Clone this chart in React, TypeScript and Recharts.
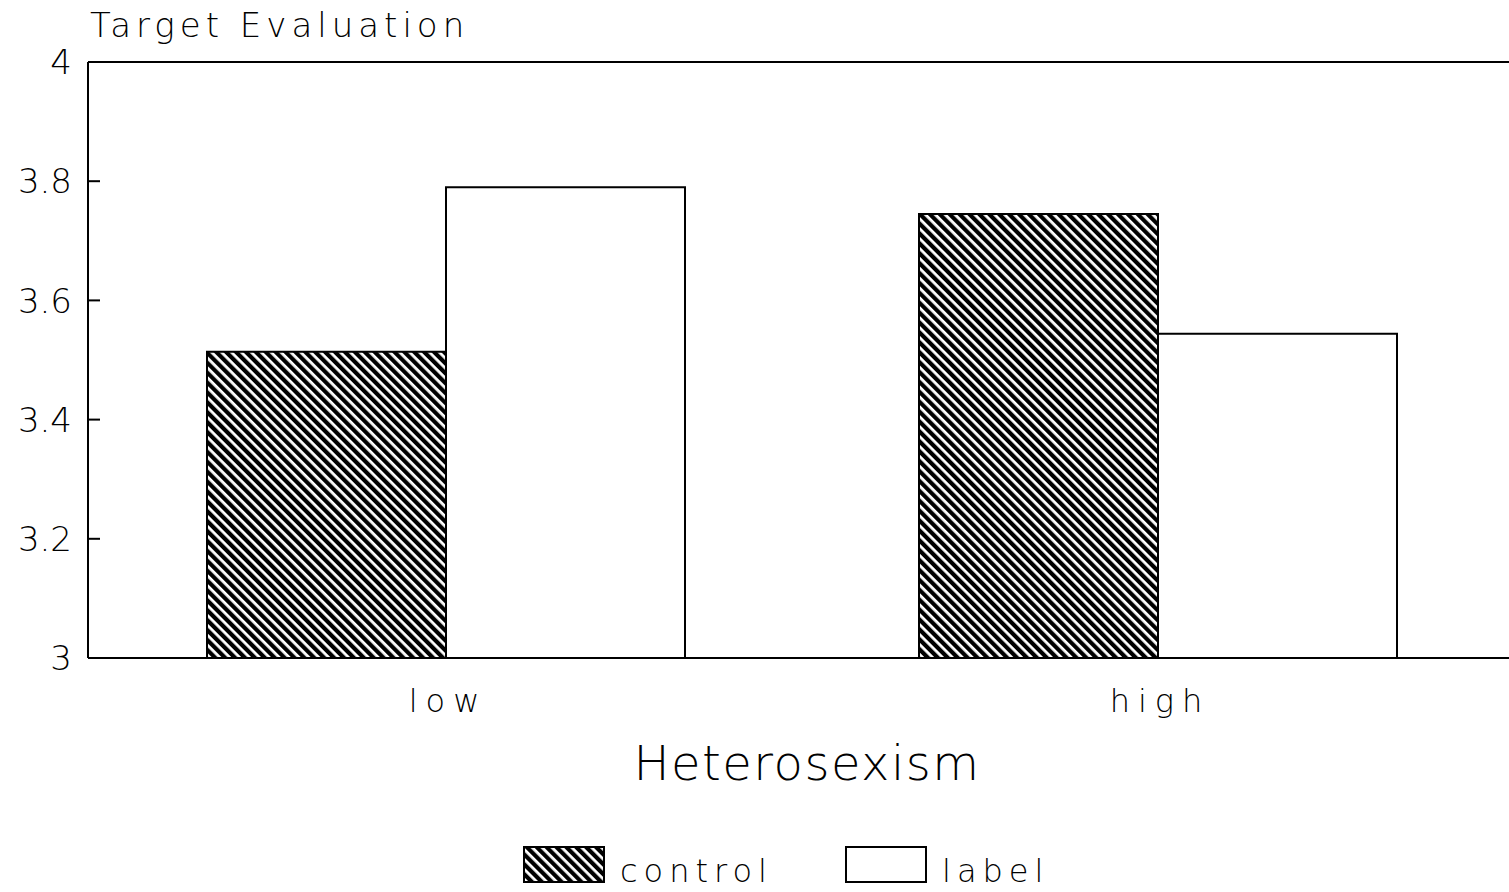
import React from "react"
import { BarChart, Bar, XAxis, YAxis, Legend, ReferenceLine } from "recharts"

const categories = ["low", "high"]
const controlValues = [3.514, 3.745]
const labelValues = [3.79, 3.544]
const yTicks = [3, 3.2, 3.4, 3.6, 3.8, 4]
const innerTicks = [3.2, 3.4, 3.6, 3.8]
const seriesNames = ["control", "label"]

const data = categories.map((c, i) => ({
  group: c,
  control: controlValues[i],
  label: labelValues[i],
}))

const FONT = "'DejaVu Sans', sans-serif"

const YTick = (props: any) => {
  const x = Number(props.x)
  const y = Number(props.y)
  return (
    <text x={x} y={y} dy="0.36em" textAnchor="end" fontFamily={FONT} fontWeight={200} fontSize={34} fill="#000">
      {String(props.payload.value)}
    </text>
  )
}

// short inward tick mark drawn from the left edge of a reference line
const TickMark = (props: any) => {
  const x1 = Number(props.x1)
  const y1 = Number(props.y1)
  return <line x1={x1} x2={x1 + 12} y1={y1} y2={y1} stroke="#000" strokeWidth={2} />
}

const XTick = (props: any) => {
  const x = Number(props.x)
  const y = Number(props.y)
  return (
    <text x={x + 2} y={y} dy="0.71em" textAnchor="middle" fontFamily={FONT} fontWeight={200} fontSize={32} letterSpacing={8} fill="#000">
      {props.payload.value}
    </text>
  )
}

const Hatch = ({ id }: { id: string }) => (
  <pattern id={id} width={7} height={7} patternUnits="userSpaceOnUse" patternTransform="rotate(-45)">
    <rect x={0} y={0} width={7} height={7} fill="#fff" />
    <rect x={0} y={0} width={4.2} height={7} fill="#000" />
  </pattern>
)

const LegendContent = (props: any) => {
  const items = props.payload || []
  const starts = [524, 846]
  return (
    <svg width={1509} height={52} style={{ display: "block" }}>
      <defs>
        <Hatch id="hatch-legend" />
      </defs>
      {items.map((it: any, i: number) => (
        <g key={it.value}>
          <rect
            x={starts[i]}
            y={9}
            width={80}
            height={35}
            fill={i === 0 ? "url(#hatch-legend)" : "#fff"}
            stroke="#000"
            strokeWidth={2}
          />
          <text x={starts[i] + 96} y={44} fontFamily={FONT} fontWeight={200} fontSize={32} letterSpacing={6} fill="#000">
            {it.value}
          </text>
        </g>
      ))}
    </svg>
  )
}

export default function App() {
  return (
    <div style={{ position: "absolute", left: 0, top: 0, width: 1509, height: 892, overflow: "hidden", background: "#fff" }}>
      <BarChart
        width={1514}
        height={892}
        data={data}
        margin={{ top: 61, right: 0, bottom: 0, left: 0 }}
        barCategoryGap={117}
        barGap={0}
      >
        <defs>
          <Hatch id="hatch-bar" />
        </defs>
        <XAxis
          dataKey="group"
          height={234}
          padding={{ left: 2, right: 0 }}
          axisLine={{ stroke: "#000", strokeWidth: 2 }}
          tickLine={false}
          tickSize={0}
          tickMargin={31}
          tick={<XTick />}
          label={{
            content: (p: any) => {
              const vb = p.viewBox
              return (
                <text x={vb.x + vb.width / 2 + 6} y={vb.y + 122} textAnchor="middle" fontFamily={FONT} fontWeight={200} fontSize={48} letterSpacing={1.5} fill="#000">
                  Heterosexism
                </text>
              )
            },
          }}
        />
        <XAxis xAxisId="top" dataKey="group" orientation="top" height={1} tick={false} tickLine={false} axisLine={{ stroke: "#000", strokeWidth: 2 }} />
        <YAxis
          type="number"
          domain={[3, 4]}
          ticks={yTicks}
          width={88}
          axisLine={{ stroke: "#000", strokeWidth: 2 }}
          tickLine={false}
          tickSize={0}
          tickMargin={16}
          tick={<YTick />}
          label={{
            content: (p: any) => {
              const vb = p.viewBox
              return (
                <text x={vb.x + vb.width + 2} y={vb.y - 25} fontFamily={FONT} fontWeight={200} fontSize={34} letterSpacing={5} fill="#000">
                  Target Evaluation
                </text>
              )
            },
          }}
        />
        {innerTicks.map((v) => (
          <ReferenceLine key={v} y={v} stroke="#000" shape={<TickMark />} />
        ))}
        <Legend
          layout="horizontal"
          verticalAlign="middle"
          align="center"
          wrapperStyle={{ left: 0, top: 838, width: 1509, height: 52 }}
          content={<LegendContent />}
        />
        <Bar dataKey="control" name={seriesNames[0]} fill="url(#hatch-bar)" stroke="#000" strokeWidth={2} isAnimationActive={false} />
        <Bar dataKey="label" name={seriesNames[1]} fill="#fff" stroke="#000" strokeWidth={2} isAnimationActive={false} />
      </BarChart>
    </div>
  )
}
